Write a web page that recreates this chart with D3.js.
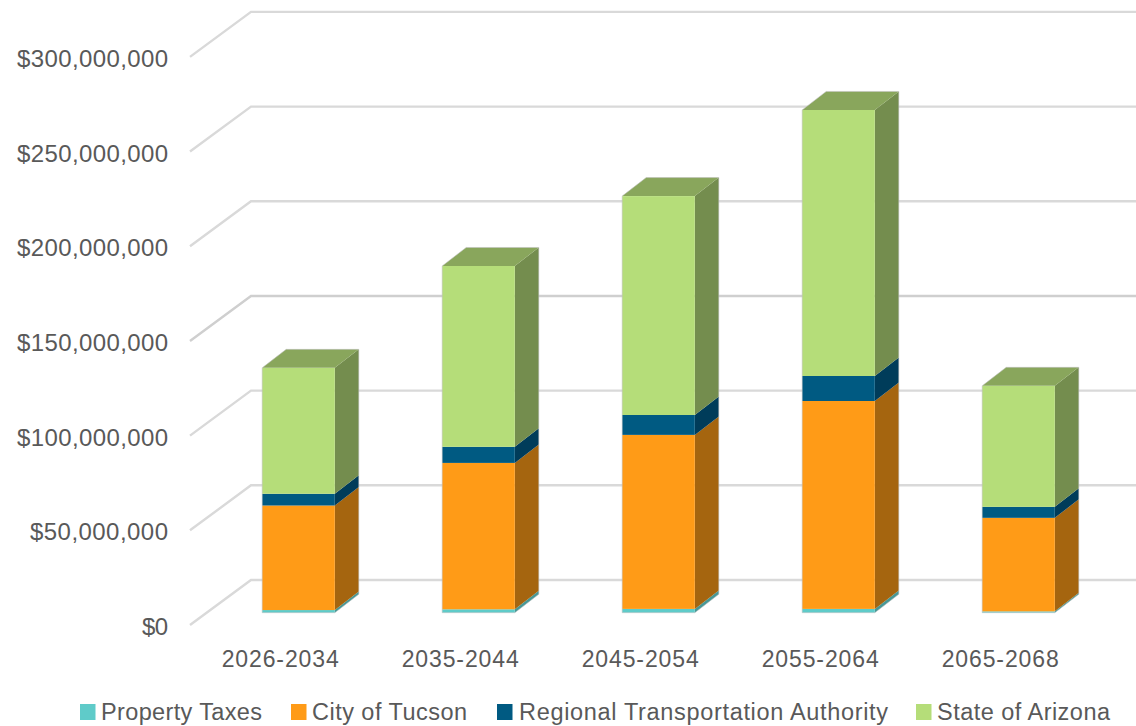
<!DOCTYPE html>
<html><head><meta charset="utf-8">
<script src="https://cdnjs.cloudflare.com/ajax/libs/d3/7.8.5/d3.min.js"></script>
<style>html,body{margin:0;padding:0;background:#fff}svg{display:block}text{font-family:"Liberation Sans",Arial,sans-serif;fill:#595959}</style>
</head><body><svg id="c" width="1136" height="726"></svg>
<script>
const categories = ["2026-2034","2035-2044","2045-2054","2055-2064","2065-2068"];
const seriesNames = ["Property Taxes","City of Tucson","Regional Transportation Authority","State of Arizona"];
const propertyTaxes = [1.4,1.8,2.0,2.0,0.7];
const cityOfTucson = [55.2,77.3,91.9,109.8,49.4];
const regionalTransportation = [6.2,8.5,10.5,13.2,5.8];
const stateOfArizona = [66.5,95.5,115.6,140.5,63.9];
const tickValues = [0,50,100,150,200,250,300];
const tickLabels = ["$0","$50,000,000","$100,000,000","$150,000,000","$200,000,000","$250,000,000","$300,000,000"];
const allSeries = [propertyTaxes,cityOfTucson,regionalTransportation,stateOfArizona];
const frontColors = ["#5FCBC9","#FF9B17","#005A82","#B5DD79"];
const sideColors = ["#479896","#A5650F","#003C5A","#748D4E"];
const topColor = "#89A65C";

const svg = d3.select("#c");
const y = d3.scaleLinear().domain([0,300]).range([612.7,44.6]);
const x = d3.scaleBand().domain(categories).range([190.6,1090.6]).paddingInner(0).paddingOuter(0);
const barW = 72.6, barInset = 71.6, dx = 24, dy = 18.5;
const wallX = 251, floorX = 190, wallShift = 32.7, floorShift = 12.3;
const g = svg.append("g");
// gridlines
tickValues.forEach(t=>{
  const yb = y(t) - wallShift, yf = y(t) + floorShift;
  g.append("path").attr("d",`M${floorX},${yf}L${wallX},${yb}L1136,${yb}`)
   .attr("fill","none").attr("stroke",t===150?"#CFCFCF":"#D9D9D9").attr("stroke-width",2.4);
});
// axis labels
const labelWidth = d3.scaleLinear().domain([2,11,12]).range([26,138,151]);
tickValues.forEach((t,i)=>{
  const s = tickLabels[i];
  const w = labelWidth(s.length);
  g.append("text").attr("x",168-w).attr("y",y(t)+floorShift+10).attr("font-size",24)
    .attr("textLength",w).attr("lengthAdjust","spacing").text(s);
});
categories.forEach(c=>{
  g.append("text").attr("x",x(c)+barInset-40.5).attr("y",667)
    .attr("font-size",23).attr("textLength",117).attr("lengthAdjust","spacing").text(c);
});
// bars
const stack = d3.stack().keys(d3.range(4)).value((d,k)=>allSeries[k][d])(d3.range(5));
categories.forEach((c,i)=>{
  const xl = x(c)+barInset, xr = xl+barW;
  stack.forEach((layer,k)=>{
    const y0 = y(layer[i][0]), y1 = y(layer[i][1]);
    g.append("path").attr("d",`M${xr},${y0}L${xr+dx},${y0-dy}L${xr+dx},${y1-dy}L${xr},${y1}Z`)
      .attr("fill",sideColors[k]);
    g.append("rect").attr("x",xl).attr("y",y1).attr("width",barW).attr("height",y0-y1)
      .attr("fill",frontColors[k]);
  });
  const yt = y(stack[3][i][1]);
  g.append("path").attr("d",`M${xl},${yt}L${xl+dx},${yt-dy}L${xr+dx},${yt-dy}L${xr},${yt}Z`)
    .attr("fill",topColor);
  const yb = y(0);
  g.append("path").attr("d",`M${xl},${yb}L${xl},${yt}L${xl+dx},${yt-dy}L${xr+dx},${yt-dy}L${xr+dx},${yb-dy}L${xr},${yb}Z`)
    .attr("fill","none").attr("stroke","#BFBFBF").attr("stroke-opacity",.55).attr("stroke-width",1);
});
// legend
const legendSwatchX = [80,291,497,916], legendTextX = [101,312,519,937], legendLen = [161,155,369,173];
seriesNames.forEach((n,k)=>{
  g.append("rect").attr("x",legendSwatchX[k]).attr("y",704).attr("width",15.5).attr("height",16).attr("fill",frontColors[k]);
  g.append("text").attr("x",legendTextX[k]).attr("y",720).attr("font-size",23.5)
    .attr("textLength",legendLen[k]).attr("lengthAdjust","spacing").text(n);
});
</script></body></html>
